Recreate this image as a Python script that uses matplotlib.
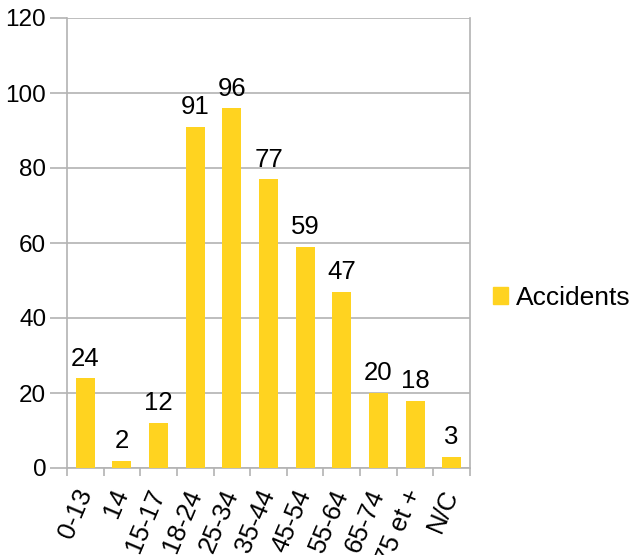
#!/usr/bin/env python3
"""
Accidents by age group
"""

import matplotlib
matplotlib.use("Agg")
import matplotlib.pyplot as plt
from matplotlib.patches import Patch

categories = ["0-13", "14", "15-17", "18-24", "25-34", "35-44",
              "45-54", "55-64", "65-74", "75 et +", "N/C"]
accidents = [24, 2, 12, 91, 96, 77, 59, 47, 20, 18, 3]
yticks = [0, 20, 40, 60, 80, 100, 120]

BAR = "#ffd320"
GRID = "#b3b3b3"
FS = 17.5


def main():
    plt.rcParams["font.family"] = ["Liberation Sans", "DejaVu Sans"]
    fig = plt.figure(figsize=(6.3, 5.55), dpi=100)
    ax = fig.add_axes([67 / 630, 1 - 468 / 555, 403 / 630, 450 / 555])

    xs = list(range(len(categories)))
    ax.bar(xs, accidents, width=0.52, color=BAR, zorder=3)
    for x, v in zip(xs, accidents):
        ax.text(x, v + 2, str(v), ha="center", va="bottom", fontsize=18.5, zorder=4)

    ax.set_xlim(-0.5, len(categories) - 0.5)
    ax.set_ylim(0, 120)
    ax.set_yticks(yticks)
    ax.set_yticklabels([str(t) for t in yticks], fontsize=FS)
    ax.yaxis.grid(True, color=GRID, linewidth=1.2, zorder=0)
    ax.tick_params(axis="y", length=12, color=GRID, width=1.2, pad=3)

    # category boundaries carry the ticks, labels sit at the centres
    ax.set_xticks([x - 0.5 for x in xs] + [len(xs) - 0.5])
    ax.set_xticklabels([])
    ax.tick_params(axis="x", length=6, color=GRID, width=1.2)
    ax.set_xticks(xs, minor=True)
    ax.set_xticklabels(categories, minor=True, rotation=67, ha="right",
                       va="center", rotation_mode="anchor", fontsize=18.5)
    ax.tick_params(axis="x", which="minor", length=0, pad=16)

    ax.spines["top"].set_visible(False)
    for side in ["left", "bottom", "right"]:
        ax.spines[side].set_color(GRID)
        ax.spines[side].set_linewidth(1.2)

    fig.legend(handles=[Patch(color=BAR, label="Accidents")],
               loc="center left", bbox_to_anchor=(493 / 630, 1 - 298 / 555),
               frameon=False, fontsize=19, handlelength=0.58, handleheight=0.58,
               handletextpad=0.3, borderpad=0, borderaxespad=0)

    fig.savefig("out.png", dpi=100)


if __name__ == "__main__":
    main()
